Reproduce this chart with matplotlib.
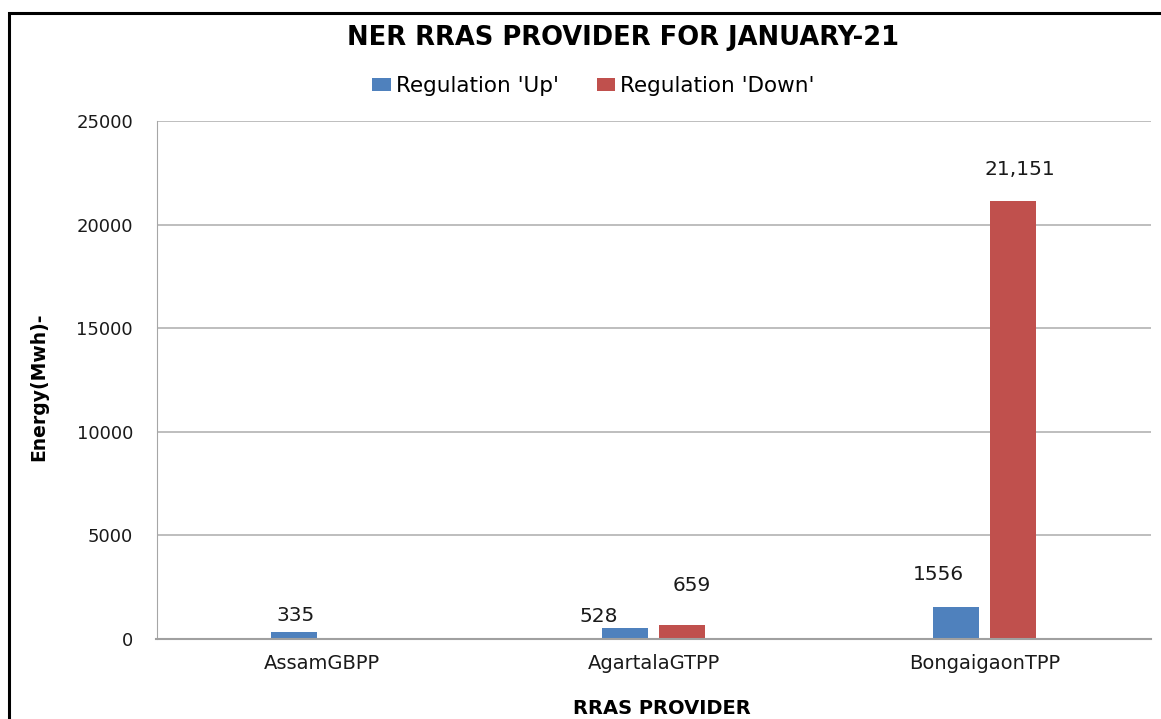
import matplotlib
matplotlib.use('Agg')
import matplotlib.pyplot as plt
from matplotlib.patches import Rectangle
import numpy as np

# data
providers = ['AssamGBPP', 'AgartalaGTPP', 'BongaigaonTPP']
reg_up = [335, 528, 1556]
reg_down = [None, 659, 21151]
up_labels = ['335', '528', '1556']
down_labels = [None, '659', '21,151']

# label offsets (pixels) as placed in the original
up_offsets = [(2, 17), (-26, 12), (-18, 32)]
down_offsets = [None, (10, 40), (7, 31)]

narrow = ['DejaVu Sans Condensed', 'Liberation Sans Narrow', 'DejaVu Sans']
blue = '#4F81BD'
red = '#C0504D'

fig = plt.figure(figsize=(11.61, 7.19), dpi=100)
ax = fig.add_axes([156.5 / 1161, 1 - 639 / 719, (1150.5 - 156.5) / 1161, (639 - 121) / 719])

x = np.arange(len(providers))
w = 0.139
off = 0.086

ax.bar(x - off, reg_up, width=w, color=blue, label="Regulation 'Up'", zorder=3)
xd = [xi + off for xi, v in zip(x, reg_down) if v is not None]
vd = [v for v in reg_down if v is not None]
ax.bar(xd, vd, width=w, color=red, label="Regulation 'Down'", zorder=3)

for xi, v, lab, (dx, dy) in zip(x, reg_up, up_labels, up_offsets):
    ax.annotate(lab, (xi - off, v), xytext=(dx, dy), textcoords='offset pixels',
                ha='center', va='center', fontsize=14.5, color='#1a1a1a')
for xi, v, lab, o in zip(x, reg_down, down_labels, down_offsets):
    if v is None:
        continue
    ax.annotate(lab, (xi + off, v), xytext=o, textcoords='offset pixels',
                ha='center', va='center', fontsize=14.5, color='#1a1a1a')

ax.set_xlim(-0.5, 2.5)
ax.set_ylim(0, 25000)
ax.set_yticks(range(0, 25001, 5000))
ax.set_xticks(x)
ax.set_xticklabels(providers, family=narrow, fontsize=14)
ax.tick_params(axis='y', length=0, pad=17, labelsize=13, labelcolor='#1a1a1a')
ax.tick_params(axis='x', length=0, pad=11, labelcolor='#1a1a1a')
ax.grid(axis='y', color='#b3b3b3', linewidth=1.2, zorder=0)
for s in ['top', 'right']:
    ax.spines[s].set_visible(False)
ax.spines['left'].set_color('#a6a6a6')
ax.spines['bottom'].set_color('#a0a0a0')
ax.spines['bottom'].set_linewidth(1.5)
ax.spines['bottom'].set_zorder(4)

fig.text(623 / 1161, 1 - 38 / 719, 'NER RRAS PROVIDER FOR JANUARY-21', ha='center', va='center',
         fontsize=18.5, fontweight='bold', family=narrow)
fig.text(662 / 1161, 1 - 709 / 719, 'RRAS PROVIDER', ha='center', va='center',
         fontsize=14, fontweight='bold', family=narrow)
fig.text(39 / 1161, 1 - 387 / 719, 'Energy(Mwh)-', ha='center', va='center', rotation=90,
         fontsize=13.5, fontweight='bold', family=narrow)

fig.legend(loc='center', bbox_to_anchor=(593.5 / 1161, 1 - 86 / 719), ncol=2, frameon=False,
           prop={'size': 15.5}, handlelength=0.85, handleheight=0.6,
           handletextpad=0.25, columnspacing=1.75)

# outer chart frame
fig.patches.append(Rectangle((9 / 1161, -0.1), 1.2, 1.1 - 13 / 719, transform=fig.transFigure,
                             fill=False, edgecolor='black', linewidth=2.2))

fig.savefig('out.png', dpi=100)
